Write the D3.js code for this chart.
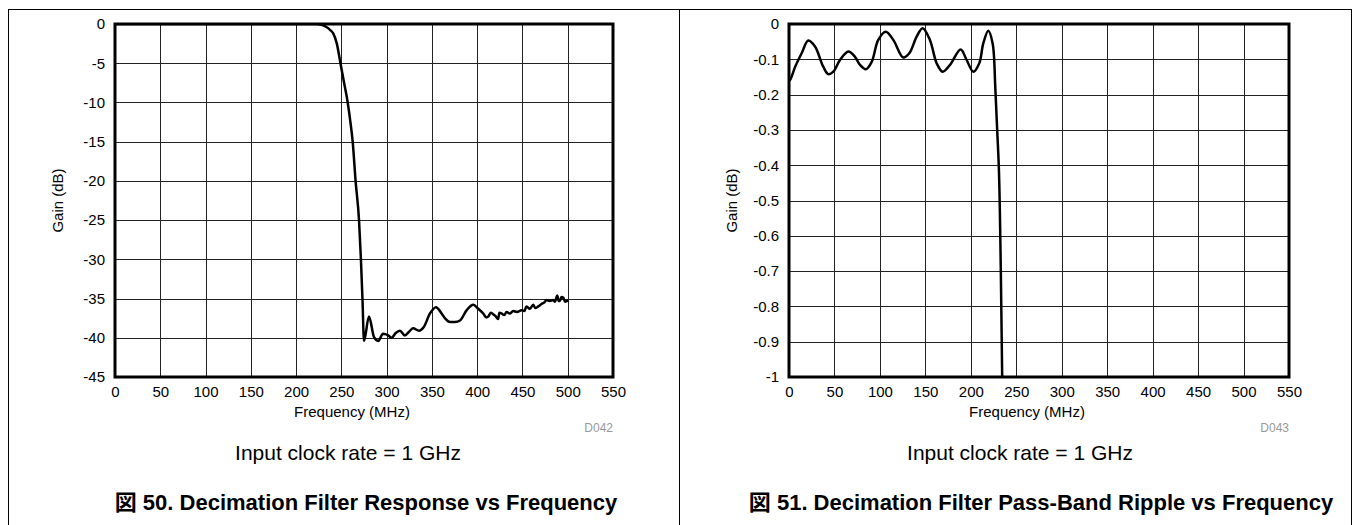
<!DOCTYPE html>
<html lang="ja">
<head>
<meta charset="UTF-8">
<script src="https://d3js.org/d3.v7.min.js"></script>
<style>
  body { margin: 0; background: #fff; }
  svg { display: block; font-family: "Liberation Sans", Arial, sans-serif; }
  .tick text { font-size: 15px; fill: #000; }
</style>
<title>Decimation Filter</title>
</head>
<body>
<div id="chart"></div>
<script>
// ---- data ----
const freqTicks = [0, 50, 100, 150, 200, 250, 300, 350, 400, 450, 500, 550];
const respTicks = [0, -5, -10, -15, -20, -25, -30, -35, -40, -45];
const rippleTicks = [0, -0.1, -0.2, -0.3, -0.4, -0.5, -0.6, -0.7, -0.8, -0.9, -1];

// fig 50: filter response (MHz, dB)
const respFreq = [0, 100, 200, 222, 228, 233, 238, 241, 245, 249, 253, 257, 260, 262.5, 265.7, 269.5, 271.6, 273.3, 275,
  280.5, 286, 290.7, 296, 301.7, 305.4, 310, 314.7, 320, 325, 329.3, 335.7, 341.2, 347.9, 354.5, 360.7, 365, 370,
  375.5, 381, 388.3, 395.7, 401.2, 406.7, 410, 412.2, 415, 417.7, 420, 423.2, 424.5, 426.8, 430, 432.4, 436, 439.7,
  444, 448.9, 452, 454.5, 458, 461.9, 464, 467.4, 471, 474, 476.6, 480, 484, 486, 488.4, 490, 491.4, 493, 495.1, 497, 500.6];
const respGain = [0, 0, 0, 0, -0.1, -0.35, -0.8, -1.2, -2.5, -5, -7.5, -10, -12.5, -15, -20, -25, -30, -35, -40.4,
  -37.3, -39.9, -40.4, -39.5, -39.7, -40.0, -39.4, -39.1, -39.7, -39.2, -38.8, -39.1, -38.6, -36.9, -36.1, -36.9, -37.6, -38.0,
  -38.0, -37.8, -36.5, -35.8, -36.3, -36.9, -37.4, -37.3, -36.8, -37.0, -37.2, -37.6, -36.8, -36.9, -37.1, -36.7, -36.9, -36.6,
  -36.7, -36.5, -36.6, -36.0, -36.3, -35.8, -36.2, -36.0, -35.7, -35.5, -35.2, -35.3, -35.2, -35.4, -34.6, -35.3, -35.3, -34.8, -34.9, -35.4, -35.2];

// fig 51: pass-band ripple (MHz, dB)
const rippleFreq = [0, 1.1, 7, 13.9, 21.2, 28.6, 37.7, 43.2, 48.8, 56.1, 65.3, 72.6, 78.1, 84.7, 91, 98.2, 106.4, 114.7,
  125.7, 132.3, 140.4, 147, 155, 162.4, 169, 177, 188.8, 195.4, 202.7, 209.3, 213.7, 219.2, 224, 226.9, 229, 231, 233, 234.5, 236];
const rippleGain = [-0.16, -0.159, -0.12, -0.083, -0.047, -0.064, -0.121, -0.142, -0.135, -0.102, -0.078, -0.093, -0.116, -0.128, -0.107, -0.045, -0.022, -0.045,
  -0.095, -0.083, -0.036, -0.012, -0.045, -0.111, -0.135, -0.116, -0.072, -0.102, -0.135, -0.111, -0.055, -0.019, -0.055, -0.178, -0.3, -0.42, -0.7, -1.0, -1.3];

const W = 1354, H = 525;
const svg = d3.select("#chart").append("svg")
  .attr("width", W)
  .attr("height", H);

// outer frame and divider
svg.append("rect")
  .attr("x", 8.5).attr("y", 9.5)
  .attr("width", 1343).attr("height", 530)
  .attr("fill", "none").attr("stroke", "#000").attr("stroke-width", 1);
svg.append("line")
  .attr("x1", 679.5).attr("x2", 679.5).attr("y1", 9).attr("y2", H)
  .attr("stroke", "#000");

function drawPanel(p) {
  const x = d3.scaleLinear().domain([0, 550]).range([p.left, p.right]);
  const y = d3.scaleLinear().domain(p.yDomain).range([p.top, p.bottom]);
  const g = svg.append("g");

  // grid
  g.selectAll(".vgrid").data(freqTicks.slice(1, -1)).enter().append("line")
    .attr("x1", d => Math.round(x(d)) + 0.5).attr("x2", d => Math.round(x(d)) + 0.5)
    .attr("y1", p.top).attr("y2", p.bottom)
    .attr("stroke", "#222").attr("stroke-width", 1);
  g.selectAll(".hgrid").data(p.yTicks.slice(1, -1)).enter().append("line")
    .attr("x1", p.left).attr("x2", p.right)
    .attr("y1", d => Math.round(y(d)) + 0.5).attr("y2", d => Math.round(y(d)) + 0.5)
    .attr("stroke", "#222").attr("stroke-width", 1);

  // curve
  const clipId = "clip" + p.id;
  g.append("clipPath").attr("id", clipId).append("rect")
    .attr("x", p.left).attr("y", p.top)
    .attr("width", p.right - p.left).attr("height", p.bottom - p.top);
  const pts = p.xs.map((d, i) => [d, p.ys[i]]);
  g.append("path")
    .datum(pts)
    .attr("clip-path", "url(#" + clipId + ")")
    .attr("fill", "none")
    .attr("stroke", "#000")
    .attr("stroke-width", 2.5)
    .attr("stroke-linejoin", "round")
    .attr("d", d3.line().x(d => x(d[0])).y(d => y(d[1])).curve(p.curve));

  // frame
  g.append("rect")
    .attr("x", p.left).attr("y", p.top)
    .attr("width", p.right - p.left).attr("height", p.bottom - p.top)
    .attr("fill", "none").attr("stroke", "#000").attr("stroke-width", 3);

  // axes (labels only)
  g.append("g")
    .attr("transform", "translate(" + (p.left - 7) + ",0)")
    .call(d3.axisLeft(y).tickValues(p.yTicks).tickSize(0).tickFormat(p.fmt))
    .call(a => a.select(".domain").remove());
  g.append("g")
    .attr("transform", "translate(0," + (p.bottom + 6) + ")")
    .call(d3.axisBottom(x).tickValues(freqTicks).tickSize(0).tickFormat(d => String(d)))
    .call(a => a.select(".domain").remove());

  // titles
  const cx = (p.left + p.right) / 2;
  g.append("text")
    .attr("x", cx - 12).attr("y", p.bottom + 40)
    .attr("text-anchor", "middle").style("font-size", "15px")
    .text("Frequency (MHz)");
  g.append("text")
    .attr("transform", "translate(" + (p.left - 52) + "," + ((p.top + p.bottom) / 2) + ") rotate(-90)")
    .attr("text-anchor", "middle").style("font-size", "15px")
    .text("Gain (dB)");
  g.append("text")
    .attr("x", p.right).attr("y", p.bottom + 55)
    .attr("text-anchor", "end").style("font-size", "12px").attr("fill", "#999")
    .text(p.code);
  g.append("text")
    .attr("x", p.panelMid + 5).attr("y", p.bottom + 83)
    .attr("text-anchor", "middle").style("font-size", "21px")
    .text("Input clock rate = 1 GHz");
  g.append("text")
    .attr("x", cx + 2).attr("y", p.bottom + 133)
    .attr("text-anchor", "middle").style("font-size", "22px").style("font-weight", "bold")
    .style("font-family", "'Liberation Sans', Arial, 'Noto Sans CJK JP', sans-serif")
    .text(p.caption);
}

drawPanel({
  id: 1, left: 115, right: 613, top: 24, bottom: 377, panelMid: 343,
  yDomain: [0, -45], yTicks: respTicks, fmt: d => String(d),
  xs: respFreq, ys: respGain, curve: d3.curveMonotoneX,
  code: "D042", caption: "図 50. Decimation Filter Response vs Frequency"
});
drawPanel({
  id: 2, left: 789, right: 1289, top: 24, bottom: 377, panelMid: 1015,
  yDomain: [0, -1], yTicks: rippleTicks, fmt: d => d === 0 ? "0" : d === -1 ? "-1" : d.toFixed(1),
  xs: rippleFreq, ys: rippleGain, curve: d3.curveCatmullRom,
  code: "D043", caption: "図 51. Decimation Filter Pass-Band Ripple vs Frequency"
});
</script>
</body>
</html>
